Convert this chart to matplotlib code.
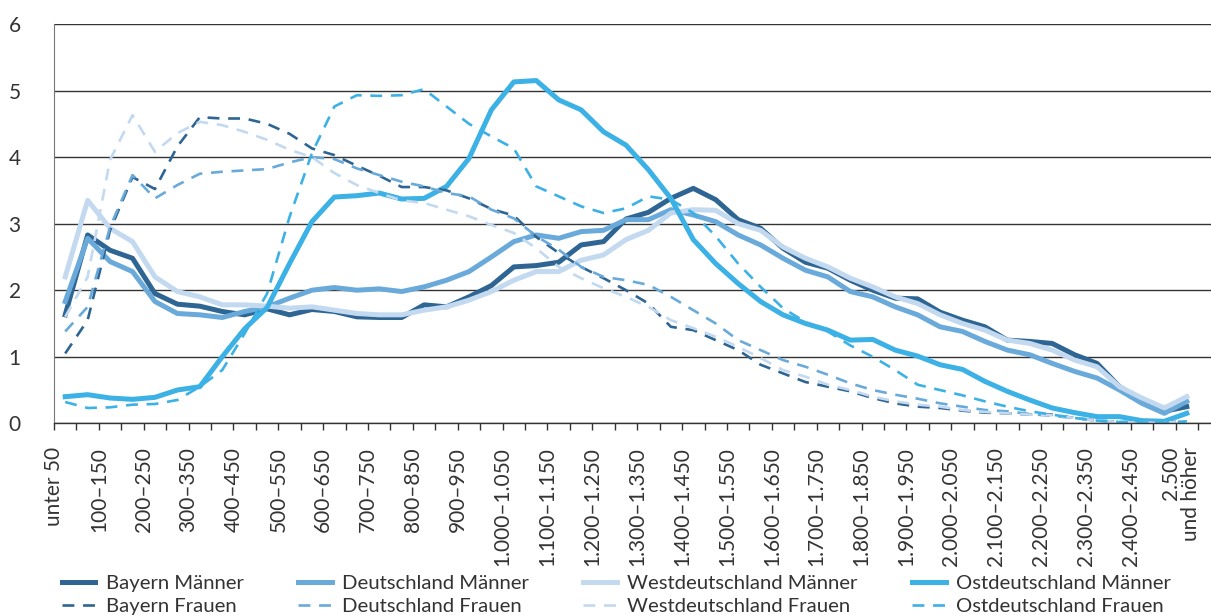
import matplotlib
matplotlib.use('Agg')
import matplotlib.pyplot as plt

# Einkommensklassen (Euro)
categories = ['unter 50', '50–100', '100–150', '150–200', '200–250', '250–300', '300–350',
              '350–400', '400–450', '450–500', '500–550', '550–600', '600–650', '650–700',
              '700–750', '750–800', '800–850', '850–900', '900–950', '950–1.000',
              '1.000–1.050', '1.050–1.100', '1.100–1.150', '1.150–1.200', '1.200–1.250',
              '1.250–1.300', '1.300–1.350', '1.350–1.400', '1.400–1.450', '1.450–1.500',
              '1.500–1.550', '1.550–1.600', '1.600–1.650', '1.650–1.700', '1.700–1.750',
              '1.750–1.800', '1.800–1.850', '1.850–1.900', '1.900–1.950', '1.950–2.000',
              '2.000–2.050', '2.050–2.100', '2.100–2.150', '2.150–2.200', '2.200–2.250',
              '2.250–2.300', '2.300–2.350', '2.350–2.400', '2.400–2.450', '2.450–2.500',
              '2.500\nund höher']

bayern_m = [1.63, 2.83, 2.6, 2.48, 1.95, 1.79, 1.76, 1.68, 1.63, 1.72, 1.63, 1.71, 1.68, 1.6, 1.59,
            1.59, 1.78, 1.75, 1.9, 2.07, 2.35, 2.37, 2.42, 2.68, 2.73, 3.07, 3.17, 3.38, 3.53, 3.36,
            3.06, 2.93, 2.63, 2.42, 2.33, 2.15, 2.0, 1.88, 1.87, 1.67, 1.55, 1.45, 1.25, 1.23, 1.2,
            1.03, 0.9, 0.55, 0.35, 0.18, 0.25]
deutschland_m = [1.83, 2.78, 2.43, 2.28, 1.83, 1.65, 1.63, 1.59, 1.68, 1.75, 1.88, 2.0, 2.04, 2.0,
                 2.02, 1.98, 2.05, 2.15, 2.28, 2.5, 2.73, 2.83, 2.78, 2.88, 2.9, 3.06, 3.06, 3.21,
                 3.13, 3.03, 2.83, 2.68, 2.48, 2.3, 2.2, 1.98, 1.9, 1.75, 1.63, 1.45, 1.38, 1.23,
                 1.1, 1.03, 0.9, 0.78, 0.68, 0.5, 0.3, 0.15, 0.33]
west_m = [2.2, 3.35, 2.93, 2.73, 2.2, 1.98, 1.9, 1.78, 1.78, 1.76, 1.73, 1.75, 1.7, 1.65, 1.63, 1.63,
          1.7, 1.75, 1.85, 1.98, 2.15, 2.28, 2.28, 2.45, 2.53, 2.76, 2.9, 3.16, 3.21, 3.2, 3.0, 2.9,
          2.65, 2.48, 2.35, 2.18, 2.05, 1.9, 1.8, 1.63, 1.5, 1.4, 1.25, 1.2, 1.1, 0.95, 0.85, 0.55,
          0.38, 0.23, 0.4]
ost_m = [0.4, 0.43, 0.38, 0.36, 0.39, 0.5, 0.55, 1.0, 1.42, 1.74, 2.4, 3.03, 3.4, 3.42, 3.46, 3.37,
         3.38, 3.56, 3.98, 4.71, 5.13, 5.15, 4.86, 4.71, 4.38, 4.18, 3.81, 3.38, 2.76, 2.4, 2.1,
         1.83, 1.63, 1.5, 1.4, 1.25, 1.26, 1.1, 1.01, 0.88, 0.81, 0.63, 0.48, 0.35, 0.23, 0.16, 0.1,
         0.1, 0.04, 0.03, 0.15]
bayern_f = [1.05, 1.55, 2.9, 3.7, 3.52, 4.16, 4.6, 4.58, 4.58, 4.5, 4.35, 4.13, 4.03, 3.87, 3.72,
            3.55, 3.55, 3.5, 3.38, 3.22, 3.12, 2.8, 2.56, 2.35, 2.18, 2.0, 1.8, 1.45, 1.4, 1.25, 1.1,
            0.88, 0.75, 0.62, 0.55, 0.48, 0.38, 0.3, 0.25, 0.23, 0.19, 0.16, 0.15, 0.13, 0.13, 0.08,
            0.04, 0.02, 0.01, 0.01, 0.03]
deutschland_f = [1.38, 1.75, 2.95, 3.73, 3.38, 3.58, 3.75, 3.78, 3.8, 3.82, 3.92, 4.0, 3.97, 3.83,
                 3.73, 3.63, 3.56, 3.46, 3.41, 3.21, 3.08, 2.81, 2.61, 2.35, 2.2, 2.15, 2.08, 1.9,
                 1.7, 1.5, 1.25, 1.1, 0.95, 0.85, 0.73, 0.6, 0.5, 0.43, 0.37, 0.3, 0.25, 0.2, 0.18,
                 0.14, 0.11, 0.08, 0.04, 0.02, 0.01, 0.01, 0.02]
west_f = [1.6, 2.2, 3.96, 4.63, 4.08, 4.36, 4.53, 4.48, 4.38, 4.26, 4.11, 4.0, 3.76, 3.58, 3.46, 3.35,
          3.31, 3.21, 3.11, 2.98, 2.86, 2.63, 2.35, 2.18, 2.03, 1.9, 1.75, 1.55, 1.43, 1.3, 1.15,
          0.98, 0.8, 0.7, 0.58, 0.5, 0.4, 0.33, 0.28, 0.25, 0.2, 0.17, 0.15, 0.13, 0.12, 0.08, 0.04,
          0.02, 0.01, 0.01, 0.03]
ost_f = [0.32, 0.23, 0.24, 0.28, 0.29, 0.35, 0.55, 0.8, 1.35, 1.95, 3.1, 4.06, 4.76, 4.93, 4.92, 4.93,
         5.02, 4.76, 4.5, 4.31, 4.13, 3.56, 3.41, 3.26, 3.16, 3.23, 3.41, 3.36, 3.16, 2.81, 2.4, 2.05,
         1.73, 1.52, 1.38, 1.17, 1.0, 0.8, 0.58, 0.5, 0.42, 0.33, 0.25, 0.18, 0.13, 0.08, 0.04, 0.02,
         0.01, 0.01, 0.03]

plt.rcParams['font.family'] = ['Lato', 'DejaVu Sans']
text_col = '#333333'

c_bayern = '#2e6592'
c_deutsch = '#6aaadb'
c_west = '#c3d9f0'
c_ost = '#3cb1e5'

fig = plt.figure(figsize=(12.11, 6.15), dpi=100)
ax = fig.add_axes([54 / 1211, 1 - 423.3 / 615, 1 - 54 / 1211, (423.3 - 24) / 615])

x = list(range(len(categories)))
lw_m = 3.6
lw_f = 1.9
dash = (4.5, 3.3)

l_bm, = ax.plot(x, bayern_m, color=c_bayern, lw=lw_m, label='Bayern Männer')
l_dm, = ax.plot(x, deutschland_m, color=c_deutsch, lw=lw_m, label='Deutschland Männer')
l_wm, = ax.plot(x, west_m, color=c_west, lw=lw_m, label='Westdeutschland Männer')
l_om, = ax.plot(x, ost_m, color=c_ost, lw=lw_m, label='Ostdeutschland Männer')
l_bf, = ax.plot(x, bayern_f, color=c_bayern, lw=lw_f, dashes=dash, label='Bayern Frauen')
l_df, = ax.plot(x, deutschland_f, color=c_deutsch, lw=lw_f, dashes=dash, label='Deutschland Frauen')
l_wf, = ax.plot(x, west_f, color=c_west, lw=lw_f, dashes=dash, label='Westdeutschland Frauen')
l_of, = ax.plot(x, ost_f, color=c_ost, lw=lw_f, dashes=dash, label='Ostdeutschland Frauen')

ax.set_ylim(0, 6)
ax.set_xlim(-0.5, 51.08)
ax.set_yticks(range(0, 7))
ax.yaxis.grid(True, color='#333333', lw=1.0)
ax.set_axisbelow(True)
ax.tick_params(axis='y', length=0, pad=24, labelsize=15, labelcolor=text_col)

# Teilstriche an den Klassengrenzen, Beschriftung jede zweite Klasse
bounds = [i - 0.5 for i in range(len(categories) + 1)]
blabels = [categories[i] if (i % 2 == 0 and i < len(categories) - 1) else '' for i in range(len(bounds))]
ax.set_xticks(bounds, blabels, rotation=90)
ax.set_xticks([len(categories) - 1.25], [categories[-1]], minor=True, rotation=90,
              multialignment='right', linespacing=1.0)
ax.tick_params(axis='x', which='major', length=5, width=1.0, color='#333333', pad=12,
               labelsize=15, labelcolor=text_col)
ax.tick_params(axis='x', which='minor', length=0, pad=17, labelsize=15, labelcolor=text_col)

for s in ['top', 'right']:
    ax.spines[s].set_visible(False)
ax.spines['left'].set_color('#777777')
ax.spines['bottom'].set_color('#333333')
ax.spines['bottom'].set_linewidth(1.0)

handles = [l_bm, l_bf, l_dm, l_df, l_wm, l_wf, l_om, l_of]
fig.legend(handles=handles, labels=[h.get_label() for h in handles], ncol=4,
           loc='lower left', bbox_to_anchor=(62 / 1211, 0.0), frameon=False,
           fontsize=14.6, handlelength=1.65, handletextpad=0.5, labelspacing=0.3,
           columnspacing=2.7, borderpad=0, borderaxespad=0, labelcolor=text_col)

fig.savefig('out.png', dpi=100)
